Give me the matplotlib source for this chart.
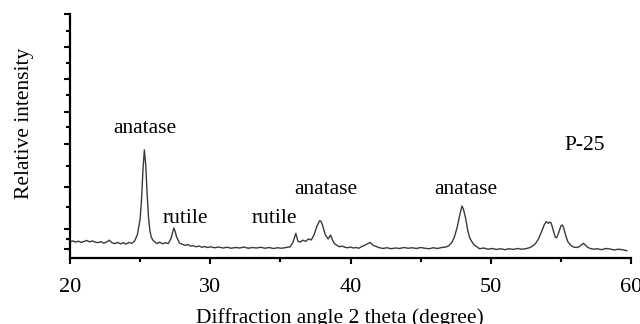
import matplotlib
matplotlib.use("Agg")
import matplotlib.pyplot as plt
import numpy as np

# XRD pattern of P-25 TiO2 (2 theta in degree, relative intensity)
two_theta = [
    20.0, 20.2, 20.4, 20.6, 20.8, 21.0, 21.2, 21.4, 21.6, 21.8,
    22.0, 22.2, 22.4, 22.6, 22.8, 23.0, 23.2, 23.4, 23.6, 23.8,
    24.0, 24.2, 24.4, 24.6, 24.8, 25.0, 25.1, 25.2, 25.3, 25.4,
    25.5, 25.6, 25.7, 25.8, 25.9, 26.0, 26.2, 26.4, 26.6, 26.8,
    27.0, 27.2, 27.4, 27.5, 27.6, 27.8, 28.0, 28.2, 28.4, 28.6,
    28.8, 29.0, 29.2, 29.4, 29.6, 29.8, 30.0, 30.3, 30.6, 30.9,
    31.2, 31.5, 31.8, 32.1, 32.4, 32.7, 33.0, 33.3, 33.6, 33.9,
    34.2, 34.5, 34.8, 35.1, 35.4, 35.7, 35.9, 36.1, 36.25, 36.4,
    36.6, 36.8, 37.0, 37.2, 37.4, 37.6, 37.8, 37.9, 38.0, 38.2,
    38.4, 38.58, 38.7, 38.85, 39.0, 39.2, 39.4, 39.6, 39.8, 40.0,
    40.2, 40.4, 40.6, 40.8, 41.0, 41.2, 41.4, 41.6, 41.8, 42.0,
    42.3, 42.6, 42.9, 43.2, 43.5, 43.8, 44.1, 44.4, 44.7, 45.0,
    45.3, 45.6, 45.9, 46.2, 46.5, 46.8, 47.0, 47.2, 47.4, 47.6,
    47.8, 47.95, 48.05, 48.2, 48.35, 48.5, 48.65, 48.8, 49.0, 49.2,
    49.5, 49.8, 50.1, 50.4, 50.7, 51.0, 51.3, 51.6, 51.9, 52.2,
    52.5, 52.8, 53.0, 53.2, 53.4, 53.6, 53.8, 53.95, 54.1, 54.2,
    54.3, 54.45, 54.6, 54.7, 54.85, 55.0, 55.1, 55.2, 55.35, 55.5,
    55.7, 55.9, 56.1, 56.3, 56.5, 56.6, 56.75, 56.9, 57.1, 57.3,
    57.6, 57.9, 58.2, 58.5, 58.8, 59.1, 59.4, 59.7,
]
intensity = [
    6.6, 7.0, 6.5, 6.9, 6.4, 6.8, 7.2, 6.6, 7.0, 6.5,
    6.3, 6.7, 6.1, 6.5, 7.3, 6.2, 5.9, 6.4, 5.8, 6.3,
    5.7, 6.4, 6.0, 6.9, 9.5, 16.0, 24.0, 36.0, 44.3, 38.0,
    26.0, 16.5, 11.0, 8.5, 7.4, 6.8, 5.9, 6.5, 5.8, 6.3,
    5.9, 8.0, 12.3, 10.8, 8.6, 6.2, 5.6, 5.2, 5.5, 4.9,
    5.0, 4.6, 4.9, 4.4, 4.7, 4.3, 4.6, 4.2, 4.5, 4.1,
    4.4, 4.0, 4.3, 4.1, 4.5, 4.0, 4.3, 4.1, 4.4, 4.0,
    4.3, 3.9, 4.2, 4.0, 4.3, 4.6, 6.5, 10.1, 6.9, 6.5,
    7.3, 6.8, 7.8, 7.4, 9.5, 13.0, 15.3, 15.0, 13.5, 9.5,
    7.8, 9.4, 7.5, 5.9, 5.3, 4.6, 4.9, 4.4, 4.2, 4.5,
    4.1, 4.3, 4.0, 4.7, 5.2, 5.8, 6.4, 5.2, 4.8, 4.3,
    3.9, 4.2, 3.8, 4.1, 3.9, 4.3, 4.0, 4.2, 3.9, 4.3,
    4.0, 3.8, 4.2, 3.9, 4.3, 4.5, 5.0, 6.2, 8.5, 12.5,
    18.0, 21.3, 20.0, 16.5, 11.5, 8.2, 6.7, 5.4, 4.6, 3.8,
    4.1, 3.6, 3.9, 3.5, 3.8, 3.4, 3.8, 3.5, 3.9, 3.6,
    3.8, 4.3, 5.0, 6.0, 7.8, 10.5, 13.5, 14.9, 14.2, 14.7,
    14.4, 11.5, 8.5, 8.3, 10.5, 13.2, 13.5, 12.4, 9.0, 6.6,
    5.2, 4.5, 4.3, 4.6, 5.6, 6.0, 5.3, 4.4, 3.9, 3.6,
    3.8, 3.4, 3.9, 3.7, 3.3, 3.6, 3.4, 3.0,
]

# phase labels: text, x, baseline y
labels = ["anatase", "rutile", "rutile", "anatase", "anatase", "P-25"]
label_x = [25.33, 28.2, 34.6, 38.24, 48.23, 56.66]
label_y = [51.2, 14.5, 14.5, 26.2, 26.2, 44.3]

plt.rcParams["font.family"] = ["Liberation Serif", "DejaVu Serif"]

fig = plt.figure(figsize=(6.4, 3.24), dpi=100)
ax = fig.add_axes([0.1094, 0.2037, 0.8766, 0.7531])

ax.plot(two_theta, intensity, color="#3a3a3a", lw=1.0)

for t, x, y in zip(labels, label_x, label_y):
    ax.text(x, y, t, ha="center", va="baseline", fontsize=15.5)

ax.set_xlim(20, 60)
ax.set_ylim(0, 100)

ax.set_xticks([20, 30, 40, 50, 60])
ax.set_xticks([25, 35, 45, 55], minor=True)
# uneven tick spacing on the intensity axis
ax.set_yticks([100, 86.6, 73.5, 60.0, 46.7, 29.2, 11.8, 3.6])
ax.set_yticks([93.2, 80.0, 66.8, 53.6, 37.7, 20.8, 7.7], minor=True)
ax.set_yticklabels([])

ax.tick_params(axis="x", which="major", direction="out", length=4.5, width=1.5,
               labelsize=16, pad=10)
ax.tick_params(axis="x", which="minor", direction="out", length=3, width=1.5)
ax.tick_params(axis="y", which="major", direction="out", length=4.5, width=1.5)
ax.tick_params(axis="y", which="minor", direction="out", length=3, width=1.5)

for side in ["top", "right"]:
    ax.spines[side].set_visible(False)
for side in ["left", "bottom"]:
    ax.spines[side].set_linewidth(1.6)

ax.set_xlabel("Diffraction angle 2 theta (degree)", fontsize=15.5)
ax.xaxis.set_label_coords(0.481, -0.205)
ax.set_ylabel("Relative intensity", fontsize=15.5)
ax.yaxis.set_label_coords(-0.064, 0.553)

fig.savefig("out.png", dpi=100)
